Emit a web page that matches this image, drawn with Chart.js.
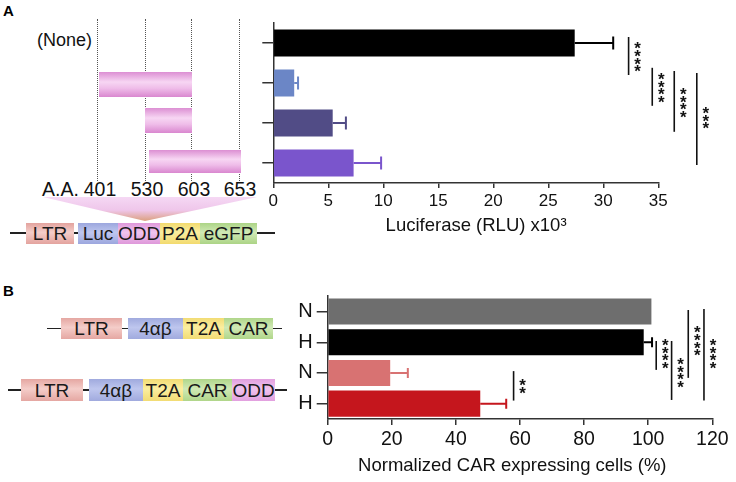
<!DOCTYPE html>
<html>
<head>
<meta charset="utf-8">
<script src="https://cdn.jsdelivr.net/npm/chart.js@4.4.1/dist/chart.umd.min.js"></script>
<style>
  body { margin: 0; background: #fff; font-family: "Liberation Sans", Arial, sans-serif; }
  #wrap { position: relative; width: 736px; height: 482px; overflow: hidden; }
  .panel { position: absolute; font-weight: bold; font-size: 15px; line-height: 1; }
  .seg { position: absolute; display: flex; align-items: center; justify-content: center;
         font-size: 19px; color: #1a1a1a; line-height: 1; }
  .ln { position: absolute; height: 1.5px; background: #222; }
  .dot { position: absolute; width: 0; border-left: 1px dotted #555; }
  .pk { position: absolute; background: linear-gradient(#dc8fd3, #f7d6f3 40%, #efbde9 65%, #d987cf); }
  .txt { position: absolute; font-size: 18px; color: #111; white-space: nowrap; line-height: 1; }
  .num { position: absolute; font-size: 19.5px; color: #111; line-height: 1; width: 40px; text-align: center; }
  canvas { position: absolute; }
</style>
</head>
<body>
<div id="wrap">
  <div class="panel" style="left:3px;top:3px">A</div>
  <div class="panel" style="left:3px;top:283px">B</div>

  <!-- panel A schematic -->
  <div class="dot" style="left:97px;top:19px;height:162px"></div>
  <div class="dot" style="left:145px;top:19px;height:162px"></div>
  <div class="dot" style="left:191px;top:19px;height:162px"></div>
  <div class="dot" style="left:239px;top:19px;height:162px"></div>
  <div class="txt" style="left:37px;top:31px">(None)</div>
  <div class="pk" style="left:99px;top:72px;width:93px;height:25px"></div>
  <div class="pk" style="left:145px;top:108px;width:47px;height:25px"></div>
  <div class="pk" style="left:149px;top:150px;width:92px;height:23px"></div>
  <div class="txt" style="left:42px;top:180px;font-size:19.5px">A.A.</div>
  <div class="num" style="left:80px;top:180px">401</div>
  <div class="num" style="left:127px;top:180px">530</div>
  <div class="num" style="left:174px;top:180px">603</div>
  <div class="num" style="left:220px;top:180px">653</div>
  <div style="position:absolute;left:43px;top:197px;width:214px;height:24px;
       clip-path:polygon(0 0,100% 0,102px 100%);
       background:linear-gradient(#f5d8f4,#efc6ea 55%,#dba07f)"></div>
  <div id="consA"></div>
  <div id="consB1"></div>
  <div id="consB2"></div>

  <canvas id="chartA" width="496" height="245" style="left:240px;top:0"></canvas>
  <canvas id="chartB" width="446" height="202" style="left:290px;top:280px"></canvas>
</div>
<script>
// ---- data ----
const catA = ['(None)', '401-603', '530-603', '540-653'];
const lucMean = [27.4, 1.9, 5.4, 7.3];
const lucErr = [3.5, 0.35, 1.2, 2.5];
const ticksA = [0, 5, 10, 15, 20, 25, 30, 35];

const catB = ['N', 'H', 'N', 'H'];
const carMean = [101, 98.6, 19.5, 47.6];
const carErr = [0, 2.6, 5.5, 8.1];
const ticksB = [0, 20, 40, 60, 80, 100, 120];

// significance brackets: x value, category span, number of stars, star centre
const sigA = [
  { x: 32.3, from: -0.15, to: 0.8, stars: 4, at: 0.33 },
  { x: 34.45, from: 0.62, to: 1.57, stars: 4, at: 1.1 },
  { x: 36.45, from: 0.7, to: 2.22, stars: 4, at: 1.47 },
  { x: 38.5, from: 0.75, to: 3.05, stars: 3, at: 1.85 },
];
const sigB = [
  { x: 58, from: 1.94, to: 2.9, stars: 2, at: 2.4 },
  { x: 102.5, from: 0.96, to: 1.9, stars: 4, at: 1.35 },
  { x: 107.3, from: 0.96, to: 2.88, stars: 4, at: 1.97 },
  { x: 112.5, from: -0.05, to: 2.16, stars: 4, at: 0.93 },
  { x: 117.4, from: -0.08, to: 2.9, stars: 4, at: 1.35 },
];

const colorsA = ['#000000', '#6b86c6', '#514c86', '#7a55cc'];
const colorsB = ['#6e6e6e', '#000000', '#d87272', '#c5161d'];

// ---- construct schematics ----
function construct(el, y, h, lineFrom, lineTo, parts) {
  const host = document.getElementById(el);
  const mid = y + h / 2;
  host.insertAdjacentHTML('beforeend',
    `<div class="ln" style="left:${lineFrom}px;top:${mid - 0.75}px;width:${lineTo - lineFrom}px"></div>`);
  parts.forEach(([txt, x1, x2, c, l]) => {
    host.insertAdjacentHTML('beforeend',
      `<div class="seg" style="left:${x1}px;top:${y}px;width:${x2 - x1}px;height:${h}px;` +
      `background:linear-gradient(${c},${l} 45%,${c})">${txt}</div>`);
  });
}
construct('consA', 222.5, 21, 10, 275, [
  ['LTR', 26, 74, '#e3a39e', '#f4cdc9'],
  ['Luc', 78, 118, '#9ca7de', '#bec6ee'],
  ['ODD', 118, 160, '#de98da', '#f0c4ee'],
  ['P2A', 160, 200, '#f2da6e', '#fbee9f'],
  ['eGFP', 200, 257, '#acd486', '#d0e9b5'],
]);
construct('consB1', 318, 21, 47, 282, [
  ['LTR', 61, 122, '#e5a7a2', '#f4cdc9'],
  ['4αβ', 128, 183, '#a0aade', '#bec6ee'],
  ['T2A', 183, 224, '#f2dc74', '#fbee9f'],
  ['CAR', 224, 273, '#b0d68a', '#d0e9b5'],
]);
construct('consB2', 379, 22, 8, 287, [
  ['LTR', 21, 83, '#e5a7a2', '#f4cdc9'],
  ['4αβ', 89, 143, '#a0aade', '#bec6ee'],
  ['T2A', 143, 183, '#f2dc74', '#fbee9f'],
  ['CAR', 183, 232, '#b0d68a', '#d0e9b5'],
  ['ODD', 232, 275, '#e2a0df', '#f0c4ee'],
]);

// ---- plugins ----
const errorBars = {
  id: 'errorBars',
  afterDatasetsDraw(chart, args, opts) {
    const { ctx, scales: { x } } = chart;
    const ds = chart.data.datasets[0];
    chart.getDatasetMeta(0).data.forEach((bar, i) => {
      const e = ds.errors[i];
      if (!e) return;
      const x0 = x.getPixelForValue(ds.data[i]);
      const x1 = x.getPixelForValue(ds.data[i] + e);
      ctx.save();
      ctx.strokeStyle = ds.backgroundColor[i];
      ctx.lineWidth = 2;
      ctx.beginPath();
      ctx.moveTo(x0, bar.y);
      ctx.lineTo(x1, bar.y);
      ctx.moveTo(x1, bar.y - opts.cap / 2);
      ctx.lineTo(x1, bar.y + opts.cap / 2);
      ctx.stroke();
      ctx.restore();
    });
  }
};

const sigMarks = {
  id: 'sigMarks',
  afterDraw(chart, args, opts) {
    const { ctx, scales: { x, y } } = chart;
    ctx.save();
    ctx.strokeStyle = '#111';
    ctx.fillStyle = '#111';
    ctx.lineWidth = 1.6;
    ctx.font = 'bold 17px "Liberation Sans", Arial';
    ctx.textAlign = 'center';
    ctx.textBaseline = 'alphabetic';
    opts.marks.forEach(m => {
      const px = x.getPixelForValue(m.x);
      ctx.beginPath();
      ctx.moveTo(px, y.getPixelForValue(m.from));
      ctx.lineTo(px, y.getPixelForValue(m.to));
      ctx.stroke();
      const cy = y.getPixelForValue(m.at);
      const step = 7.6;
      for (let k = 0; k < m.stars; k++) {
        const sy = cy + (k - (m.stars - 1) / 2) * step;
        ctx.fillText('*', px + 9, sy + 9.6);
      }
    });
    ctx.restore();
  }
};

function barChart(id, cats, vals, errs, colors, ticks, o) {
  return new Chart(document.getElementById(id), {
    type: 'bar',
    data: {
      labels: cats,
      datasets: [{
        data: vals,
        errors: errs,
        backgroundColor: colors,
        borderWidth: 0,
        barPercentage: o.barPct,
        categoryPercentage: 1,
      }]
    },
    options: {
      indexAxis: 'y',
      responsive: false,
      animation: false,
      layout: { padding: o.padding },
      plugins: {
        legend: { display: false },
        tooltip: { enabled: false },
        errorBars: { cap: o.cap },
        sigMarks: { marks: o.sig },
      },
      scales: {
        y: {
          grid: { offset: false, drawOnChartArea: false, tickLength: 11, color: '#333', lineWidth: 1.5 },
          border: { color: '#333', width: 1.5 },
          ticks: {
            display: o.yLabels,
            padding: 4,
            color: '#111',
            font: { family: '"Liberation Sans", Arial', size: 20 },
          },
          afterFit: s => { s.width = o.yWidth; },
        },
        x: {
          min: ticks[0],
          max: ticks[ticks.length - 1],
          afterBuildTicks: s => { s.ticks = ticks.map(v => ({ value: v })); },
          grid: { drawOnChartArea: false, tickLength: o.xTick, color: '#333', lineWidth: 1.5 },
          border: { color: '#333', width: 1.5 },
          ticks: {
            padding: 3,
            maxRotation: 0,
            color: '#111',
            font: { family: '"Liberation Sans", Arial', size: o.tickSize },
          },
          title: {
            display: true,
            text: o.title,
            color: '#111',
            font: { family: '"Liberation Sans", Arial', size: o.titleSize },
            padding: { top: 0, bottom: o.titlePad },
          },
          afterFit: s => { s.height = o.xHeight; },
        }
      }
    },
    plugins: [errorBars, sigMarks]
  });
}

barChart('chartA', catA, lucMean, lucErr, colorsA, ticksA, {
  barPct: 0.675, padding: { top: 23, right: 77.7, left: 0, bottom: 0 },
  cap: 13, sig: sigA, yLabels: false, yWidth: 33.3, xTick: 5, tickSize: 17,
  title: '    Luciferase (RLU) x10³', titleSize: 18.5, titlePad: 7.5, xHeight: 62,
});

barChart('chartB', catB, carMean, carErr, colorsB, ticksB, {
  barPct: 0.85, padding: { top: 16.2, right: 23.7, left: 0, bottom: 0 },
  cap: 10, sig: sigB, yLabels: true, yWidth: 37.7, xTick: 6, tickSize: 19.5,
  title: 'Normalized CAR expressing cells (%)   ', titleSize: 18.5, titlePad: 4.5, xHeight: 63,
});
</script>
</body>
</html>
